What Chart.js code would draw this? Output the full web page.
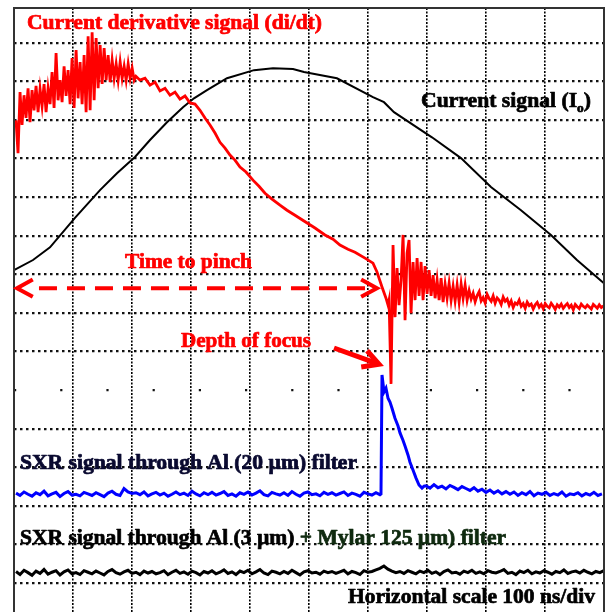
<!DOCTYPE html>
<html>
<head>
<meta charset="utf-8">
<script src="https://cdn.jsdelivr.net/npm/chart.js@4.4.1/dist/chart.umd.min.js"></script>
<style>
  html, body { margin: 0; padding: 0; background: #fff; }
  #grafico { display: block; }
</style>
</head>
<body>
<canvas id="grafico" width="608" height="612"></canvas>
<script>
// tempo em ns (100 ns/div), amplitude em divisoes verticais da tela
const passoRapido = 3.36;   // ns entre amostras (di/dt)
const passoSxr = 6.71;      // ns entre amostras (SXR)

// sinal de corrente (I0)
const correnteTempo = [0, 31.9, 60.4, 102.3, 144.3, 172.8, 203, 228.2, 256.7, 283.6, 302, 323.8, 357.4, 402.7, 434.6, 468.1, 486.6, 541.9, 602.3, 620.8, 637.6, 701.3, 750, 800.3, 850.7, 901, 944.6, 989.9];
const correnteValor = [8.11, 8.37, 8.70, 9.46, 10.18, 10.62, 11.04, 11.48, 11.94, 12.33, 12.56, 12.77, 13.08, 13.29, 13.34, 13.32, 13.24, 13.08, 12.59, 12.46, 12.20, 11.55, 11.01, 10.26, 9.66, 9.02, 8.37, 7.77];

// derivada da corrente (di/dt)
const didtInicio = 3.4;
const didtRuido = [11.99, 11.14, 12.72, 11.87, 12.64, 12.05, 12.82, 11.94, 12.77, 12.25, 12.88, 12.20, 12.80, 12.36, 12.93, 12.20, 12.82, 12.41, 13.24, 12.31,
  13.73, 12.51, 13.03, 12.46, 13.39, 12.62, 13.29, 12.41, 13.60, 12.31, 13.81, 12.56, 13.50, 12.41, 13.68, 12.20, 14.17, 12.25, 14.27, 12.51,
  14.12, 12.82, 13.94, 12.93, 13.86, 13.03, 13.68, 12.98, 13.55, 13.08, 13.45, 13.03, 13.50, 13.08, 13.39, 13.03, 13.45, 13.08, 13.34, 13.03];
const didtQuedaTempo = [204.7, 211.4, 219.8, 228.2, 236.6, 245, 253.4, 261.8, 270.2, 278.5, 286.9, 295.3, 303.7, 312.1, 320.5, 328.9, 337.3, 345.7, 354.1, 362.4, 370.8,
  379.2, 389.3, 401, 411.1, 421.2, 432.9, 446.3, 458.1, 471.5, 486.6, 505.1, 521.8, 535.3, 547, 560.4, 572.2, 589, 602.4, 609.1, 617.5, 624.2, 627.6];
const didtQuedaValor = [13.13, 13.03, 13.08, 12.90, 12.98, 12.75, 12.82, 12.64, 12.72, 12.54, 12.62, 12.44, 12.41, 12.25, 12.05, 11.87, 11.66, 11.42, 11.27, 11.09, 10.96,
  10.78, 10.65, 10.44, 10.28, 10.10, 9.95, 9.79, 9.66, 9.53, 9.38, 9.20, 9.02, 8.91, 8.76, 8.65, 8.57, 8.42, 8.29, 8.06, 7.67, 7.38, 7.20];
const didtPinchInicio = 629.3;
const didtPinch = [7.33, 5.16, 8.76, 6.89, 8.16, 7.20, 7.85, 9.02, 6.81, 8.55, 8.89, 6.99, 8.32, 7.33, 8.42, 7.44, 8.32, 7.33, 8.21, 7.49,
  8.11, 7.44, 7.98, 7.38, 7.85, 7.33, 7.90, 7.28, 7.75, 7.38, 7.77, 7.33, 7.69, 7.31, 7.72, 7.28, 7.75, 7.38, 7.72, 7.33,
  7.58, 7.36, 7.51, 7.29, 7.45, 7.55, 7.31, 7.40, 7.26, 7.48, 7.37, 7.30, 7.44, 7.25, 7.39, 7.33, 7.22, 7.41, 7.30, 7.36,
  7.20, 7.31, 7.14, 7.26, 7.22, 7.33, 7.17, 7.24, 7.12, 7.28, 7.19, 7.23, 7.10, 7.21, 7.27, 7.15, 7.22, 7.11, 7.24, 7.17,
  7.13, 7.25, 7.18, 7.09, 7.21, 7.15, 7.23, 7.12, 7.19, 7.24, 7.14, 7.20, 7.08, 7.22, 7.16, 7.11, 7.23, 7.17, 7.13, 7.20,
  7.15, 7.10, 7.22, 7.17, 7.12, 7.21, 7.14, 7.18];

// SXR atraves de Al (20 um)
const sxrAlInicio = 3.4;
const sxrAlBase = [2.33, 2.27, 2.36, 2.30, 2.25, 2.34, 2.29, 2.38, 2.26, 2.31, 2.35, 2.24, 2.32, 2.37, 2.28, 2.30, 2.26, 2.35, 2.31, 2.27,
  2.34, 2.29, 2.24, 2.33, 2.38, 2.30, 2.27, 2.45, 2.36, 2.32, 2.34, 2.29, 2.36, 2.26, 2.31, 2.35, 2.28, 2.33, 2.25, 2.30,
  2.36, 2.29, 2.33, 2.27, 2.38, 2.31, 2.26, 2.34, 2.29, 2.35, 2.28, 2.32, 2.37, 2.27, 2.31, 2.25, 2.34, 2.30, 2.36, 2.28,
  2.33, 2.39, 2.29, 2.26, 2.35, 2.31, 2.28, 2.34, 2.27, 2.37, 2.30, 2.25, 2.33, 2.36, 2.29, 2.31, 2.26, 2.35, 2.30, 2.34,
  2.28, 2.32, 2.36, 2.27, 2.33, 2.30, 2.25, 2.35, 2.31, 2.28, 2.34, 2.29];
const sxrAlPulsoTempo = [615.8, 617.5, 620.9, 624.2, 627.6, 630.9, 634.3, 639.3, 644.4, 647.7, 652.7, 656.1, 661.1, 664.5, 669.5, 674.6, 679.6, 684.6, 688];
const sxrAlPulsoValor = [2.31, 5.39, 4.95, 5.05, 4.79, 4.69, 4.53, 4.27, 4.07, 3.89, 3.70, 3.55, 3.32, 3.13, 2.93, 2.72, 2.54, 2.46, 2.51];
const sxrAlCaudaInicio = 691.3;
const sxrAlCauda = [2.52, 2.46, 2.55, 2.47, 2.51, 2.44, 2.53, 2.48, 2.42, 2.50, 2.45, 2.40, 2.47, 2.38, 2.43, 2.35, 2.41, 2.33, 2.39, 2.31,
  2.37, 2.30, 2.36, 2.27, 2.34, 2.29, 2.37, 2.26, 2.33, 2.30, 2.35, 2.27, 2.32, 2.28, 2.36, 2.25, 2.31, 2.29, 2.34, 2.26,
  2.32, 2.28, 2.35, 2.27, 2.31];

// SXR atraves de Al (3 um) + Mylar 125 um
const sxrMylarInicio = 3.4;
const sxrMylar = [0.30, 0.22, 0.33, 0.27, 0.20, 0.31, 0.25, 0.35, 0.23, 0.28, 0.32, 0.21, 0.29, 0.34, 0.24, 0.27, 0.22, 0.32, 0.28, 0.24,
  0.31, 0.26, 0.21, 0.30, 0.35, 0.27, 0.23, 0.29, 0.33, 0.25, 0.28, 0.22, 0.31, 0.26, 0.30, 0.24, 0.27, 0.32, 0.22, 0.28,
  0.33, 0.25, 0.29, 0.23, 0.31, 0.27, 0.21, 0.30, 0.26, 0.32, 0.24, 0.28, 0.34, 0.25, 0.29, 0.22, 0.31, 0.27, 0.33, 0.24,
  0.29, 0.35, 0.26, 0.22, 0.31, 0.28, 0.24, 0.30, 0.25, 0.33, 0.27, 0.21, 0.29, 0.32, 0.26, 0.28, 0.23, 0.31, 0.27, 0.30,
  0.25, 0.29, 0.33, 0.24, 0.30, 0.27, 0.22, 0.32, 0.28, 0.30, 0.34, 0.38, 0.44, 0.36, 0.31, 0.27, 0.30, 0.25, 0.32, 0.28,
  0.24, 0.31, 0.27, 0.33, 0.25, 0.29, 0.22, 0.30, 0.34, 0.26, 0.28, 0.23, 0.31, 0.27, 0.33, 0.25, 0.29, 0.24, 0.32, 0.28,
  0.26, 0.30, 0.35, 0.25, 0.28, 0.22, 0.31, 0.27, 0.33, 0.24, 0.29, 0.26, 0.32, 0.28, 0.23, 0.30, 0.27, 0.34, 0.25, 0.29,
  0.31, 0.26, 0.33, 0.28, 0.24, 0.30, 0.27, 0.32];

// escalas da tela
const tempoMin = 0;
const tempoMax = 990;
const tempoDiv = 100;
const divMin = -0.75;
const divMax = 14.9;
const linhaCentral = 5;

// anotacoes (tempo em ns, altura em divisoes)
const textos = [
  { partes: [{ t: 'Current derivative signal (di/dt)' }], x0: 21.8, x1: 516.8, y: 14.35, tam: 20, cor: '#ff0000' },
  { partes: [{ t: 'Current signal (I' }, { t: 'o', sub: true }, { t: ')' }], x0: 683, x1: 968.2, y: 12.33, tam: 21, cor: '#000000' },
  { partes: [{ t: 'Time to pinch' }], x0: 186.3, x1: 399.4, y: 8.16, tam: 20, cor: '#ff0000' },
  { partes: [{ t: 'Depth of focus' }], x0: 280.2, x1: 498.4, y: 6.11, tam: 20, cor: '#ff0000' },
  { partes: [{ t: 'SXR signal through Al (20 µm) filter' }], x0: 10.1, x1: 575.6, y: 2.95, tam: 20, cor: '#0a0a30' },
  { partes: [{ t: 'SXR signal through Al (3 µm) ' }, { t: '+ Mylar 125 µm) filter', cor: '#0f2a0f' }], x0: 10.1, x1: 825.6, y: 1.01, tam: 20, cor: '#000000' },
  { partes: [{ t: 'Horizontal scale 100 ns/div' }], x0: 560.5, x1: 975, y: -0.52, tam: 21, cor: '#000000' }
];
const setaPinch = { x0: 5, x1: 609, y: 7.64 };
const setaFoco = { x0: 537, y0: 6.09, x1: 612.5, y1: 5.67 };

function amostras(inicio, passo, valores) {
  return valores.map((v, i) => ({ x: inicio + i * passo, y: v }));
}

function pares(tempos, valores) {
  return tempos.map((t, i) => ({ x: t, y: valores[i] }));
}

function cabeca(ctx, x1, y1, x2, y2) {
  const ang = Math.atan2(y2 - y1, x2 - x1);
  const comp = 18;
  ctx.beginPath();
  ctx.moveTo(x2 + comp * Math.cos(ang + Math.PI - 0.5), y2 + comp * Math.sin(ang + Math.PI - 0.5));
  ctx.lineTo(x2, y2);
  ctx.lineTo(x2 + comp * Math.cos(ang + Math.PI + 0.5), y2 + comp * Math.sin(ang + Math.PI + 0.5));
  ctx.stroke();
}

function escreve(ctx, xs, ys, item) {
  const esq = xs.getPixelForValue(item.x0);
  const dir = xs.getPixelForValue(item.x1);
  const base = ys.getPixelForValue(item.y);
  const fonte = (p) => 'bold ' + (p.sub ? Math.round(item.tam * 0.6) : item.tam) + 'px "Liberation Serif"';
  let largura = 0;
  item.partes.forEach(p => {
    ctx.font = fonte(p);
    largura += ctx.measureText(p.t).width;
  });
  ctx.save();
  ctx.translate(esq, base);
  ctx.scale((dir - esq) / largura, 1);
  ctx.lineWidth = 0.7;
  ctx.lineJoin = 'round';
  let x = 0;
  item.partes.forEach(p => {
    ctx.font = fonte(p);
    ctx.fillStyle = p.cor || item.cor;
    ctx.strokeStyle = p.cor || item.cor;
    const dy = p.sub ? item.tam * 0.22 : 0;
    ctx.fillText(p.t, x, dy);
    ctx.strokeText(p.t, x, dy);
    x += ctx.measureText(p.t).width;
  });
  ctx.restore();
}

const moldura = {
  id: 'moldura',
  afterDatasetsDraw(chart) {
    const { ctx, chartArea: a } = chart;
    ctx.save();
    ctx.strokeStyle = '#333';
    ctx.lineWidth = 2;
    ctx.strokeRect(a.left, a.top, a.right - a.left, a.bottom - a.top + 4);
    ctx.restore();
  }
};

const anotacoes = {
  id: 'anotacoes',
  afterDraw(chart) {
    const ctx = chart.ctx;
    const xs = chart.scales.x;
    const ys = chart.scales.y;
    ctx.save();
    ctx.strokeStyle = '#ff0000';
    ctx.lineCap = 'butt';

    // seta tracejada "time to pinch"
    const py = ys.getPixelForValue(setaPinch.y);
    const pa = xs.getPixelForValue(setaPinch.x0);
    const pb = xs.getPixelForValue(setaPinch.x1);
    ctx.lineWidth = 4;
    ctx.setLineDash([18, 10]);
    ctx.beginPath();
    ctx.moveTo(pa + 22, py);
    ctx.lineTo(pb - 4, py);
    ctx.stroke();
    ctx.setLineDash([]);
    cabeca(ctx, pb, py, pa, py);
    cabeca(ctx, pa, py, pb, py);

    // seta "depth of focus"
    const fx0 = xs.getPixelForValue(setaFoco.x0);
    const fy0 = ys.getPixelForValue(setaFoco.y0);
    const fx1 = xs.getPixelForValue(setaFoco.x1);
    const fy1 = ys.getPixelForValue(setaFoco.y1);
    ctx.lineWidth = 5;
    ctx.beginPath();
    ctx.moveTo(fx0, fy0);
    ctx.lineTo(fx1 - 3, fy1 - 1);
    ctx.stroke();
    cabeca(ctx, fx0, fy0, fx1, fy1);

    ctx.textBaseline = 'alphabetic';
    textos.forEach(item => escreve(ctx, xs, ys, item));
    ctx.restore();
  }
};

const ctx = document.getElementById('grafico').getContext('2d');

const data = {
  datasets: [
    {
      label: 'di/dt',
      data: amostras(didtInicio, passoRapido, didtRuido)
        .concat(pares(didtQuedaTempo, didtQuedaValor))
        .concat(amostras(didtPinchInicio, passoRapido, didtPinch)),
      borderColor: '#ff0000',
      borderWidth: 2.8
    },
    {
      label: 'SXR Al 20 um',
      data: amostras(sxrAlInicio, passoSxr, sxrAlBase)
        .concat(pares(sxrAlPulsoTempo, sxrAlPulsoValor))
        .concat(amostras(sxrAlCaudaInicio, passoSxr, sxrAlCauda)),
      borderColor: '#0000ff',
      borderWidth: 3
    },
    {
      label: 'I0',
      data: pares(correnteTempo, correnteValor),
      borderColor: '#000000',
      borderWidth: 2
    },
    {
      label: 'SXR Al 3 um + Mylar',
      data: amostras(sxrMylarInicio, passoSxr, sxrMylar),
      borderColor: '#000000',
      borderWidth: 3
    }
  ]
};

const config = {
  type: 'line',
  data: data,
  options: {
    responsive: false,
    animation: false,
    devicePixelRatio: 1,
    layout: { padding: { left: 14, top: 8, right: 4, bottom: 0 } },
    elements: { point: { radius: 0 }, line: { tension: 0 } },
    plugins: { legend: { display: false }, tooltip: { enabled: false } },
    scales: {
      x: {
        type: 'linear',
        min: tempoMin,
        max: tempoMax,
        ticks: { display: false, stepSize: tempoDiv, includeBounds: false },
        grid: { drawTicks: false, color: '#000', lineWidth: 1.6 },
        border: { display: false, dash: [2, 1.5] }
      },
      y: {
        type: 'linear',
        min: divMin,
        max: divMax,
        ticks: { display: false, stepSize: 1, includeBounds: false },
        grid: { drawTicks: false, color: '#111', lineWidth: 2.2 },
        border: {
          display: false,
          dash: (c) => (c.tick && c.tick.value === linhaCentral ? [2.2, 44] : [2.5, 3.5])
        }
      }
    }
  },
  plugins: [moldura, anotacoes]
};

const grafico = new Chart(ctx, config);
</script>
</body>
</html>
